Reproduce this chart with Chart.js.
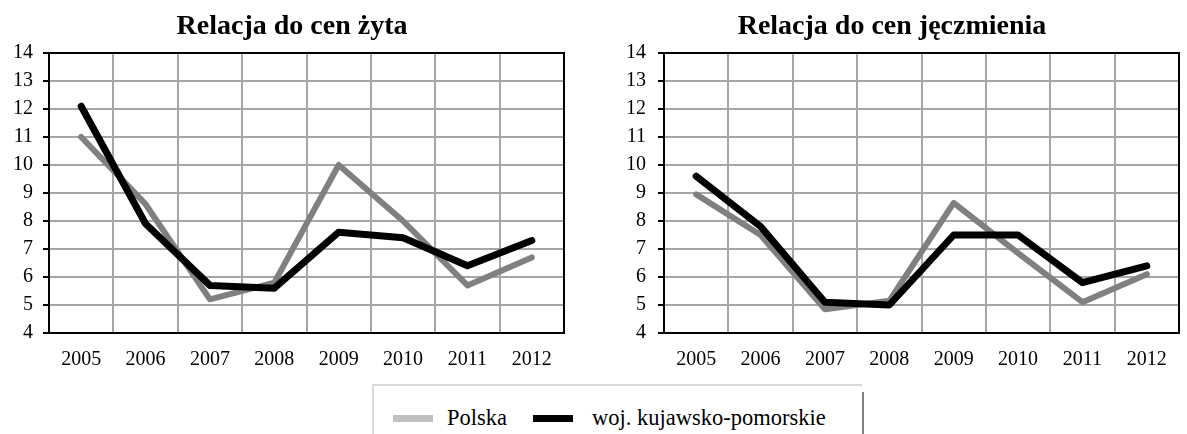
<!DOCTYPE html>
<html>
<head>
<meta charset="utf-8">
<script src="https://cdn.jsdelivr.net/npm/chart.js@4/dist/chart.umd.min.js"></script>
<style>
  body { margin: 0; background: #fff; width: 1187px; height: 434px; overflow: hidden; position: relative; font-family: "Liberation Serif", "Times New Roman", serif; }
  canvas { position: absolute; top: 0; }
  #rye { left: 0; }
  #barley { left: 597px; }
  .title { position: absolute; top: 8px; width: 400px; text-align: center; font-size: 28px; font-weight: bold; line-height: 34px; color: #000; white-space: nowrap; }
  .legend-box { position: absolute; left: 372px; top: 384px; width: 488px; height: 60px; border-top: 2px solid #d9d9d9; border-left: 2px solid #d9d9d9; }
  .legend-end { position: absolute; left: 862px; top: 392px; width: 2px; height: 42px; background: #7f7f7f; }
  .swatch { position: absolute; top: 415px; width: 40px; height: 7px; }
  .label { position: absolute; top: 404px; font-size: 22.5px; line-height: 28px; color: #000; white-space: nowrap; }
</style>
</head>
<body>
<canvas id="rye" width="590" height="380"></canvas>
<canvas id="barley" width="590" height="380"></canvas>

<div class="title" style="left:92px">Relacja do cen żyta</div>
<div class="title" style="left:692px">Relacja do cen jęczmienia</div>

<div class="legend-box"></div>
<div class="legend-end"></div>
<div class="swatch" style="left:393px;background:#bfbfbf"></div>
<div class="label" style="left:447px">Polska</div>
<div class="swatch" style="left:533px;background:#000"></div>
<div class="label" style="left:592px">woj. kujawsko-pomorskie</div>

<script>
const years = ['2005', '2006', '2007', '2008', '2009', '2010', '2011', '2012'];
const seriesNames = ['Polska', 'woj. kujawsko-pomorskie'];

// relacja do cen żyta
const ryePolska = [11.0, 8.6, 5.2, 5.8, 10.0, 8.0, 5.7, 6.7];
const ryeKujPom = [12.1, 7.9, 5.7, 5.6, 7.6, 7.4, 6.4, 7.3];

// relacja do cen jęczmienia
const barleyPolska = [8.95, 7.5, 4.85, 5.15, 8.65, 6.85, 5.1, 6.1];
const barleyKujPom = [9.6, 7.8, 5.1, 5.0, 7.5, 7.5, 5.8, 6.4];

const yMin = 4;
const yMax = 14;
const yStep = 1;

const serif = 'Liberation Serif';

// black frame around the plot area (top and right edges)
const plotFrame = {
  id: 'plotFrame',
  beforeDatasetsDraw(chart) {
    const a = chart.chartArea;
    const ctx = chart.ctx;
    ctx.save();
    ctx.strokeStyle = '#000';
    ctx.lineWidth = 2;
    ctx.strokeRect(a.left, a.top, a.right - a.left, a.bottom - a.top);
    ctx.restore();
  }
};

function makeChart(id, polska, kujPom, axisWidth, labelGap, rightPad) {
  return new Chart(document.getElementById(id), {
    type: 'line',
    data: {
      labels: years,
      datasets: [
        {
          label: seriesNames[0],
          data: polska,
          borderColor: '#808080',
          borderWidth: 6,
          order: 1
        },
        {
          label: seriesNames[1],
          data: kujPom,
          borderColor: '#000',
          borderWidth: 7,
          order: 0
        }
      ]
    },
    options: {
      responsive: false,
      animation: false,
      elements: {
        point: { radius: 0 },
        line: { tension: 0, borderCapStyle: 'round', borderJoinStyle: 'round' }
      },
      layout: { padding: { left: 0, right: rightPad, top: 53, bottom: 0 } },
      plugins: {
        legend: { display: false },
        tooltip: { enabled: false }
      },
      scales: {
        x: {
          offset: true,
          grid: { offset: true, color: '#a6a6a6', lineWidth: 2, drawTicks: false },
          border: { color: '#000', width: 2 },
          ticks: { color: '#000', font: { family: serif, size: 20 }, padding: 15, maxRotation: 0 },
          afterFit(scale) { scale.height = 47; }
        },
        y: {
          min: yMin,
          max: yMax,
          grid: { color: '#a6a6a6', lineWidth: 2, tickLength: 6, tickColor: '#000' },
          border: { color: '#000', width: 2 },
          ticks: { stepSize: yStep, color: '#000', font: { family: serif, size: 20 }, padding: labelGap },
          afterFit(scale) { scale.width = axisWidth; }
        }
      }
    },
    plugins: [plotFrame]
  });
}

makeChart('rye', ryePolska, ryeKujPom, 49, 10, 26);
makeChart('barley', barleyPolska, barleyKujPom, 67, 12, 8);
</script>
</body>
</html>
